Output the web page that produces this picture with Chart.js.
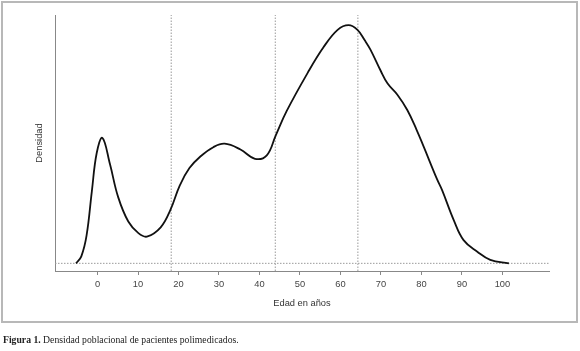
<!DOCTYPE html>
<html lang="es">
<head>
    <meta charset="UTF-8">
    <title>Densidad poblacional de pacientes polimedicados</title>
    <script src="https://cdn.jsdelivr.net/npm/chart.js"></script>
    <style>
        body {
            margin: 0;
            padding: 0;
            background: white;
            width: 580px;
            height: 351px;
            position: relative;
            overflow: hidden;
        }
        .frame {
            position: absolute;
            left: 1px;
            top: 1px;
            width: 577px;
            height: 322px;
            box-sizing: border-box;
            border: 2px solid #b8b8b8;
        }
        #chart {
            position: absolute;
            left: 0;
            top: 0;
        }
        .caption {
            position: absolute;
            left: 3px;
            top: 334px;
            font-family: "Liberation Serif", "DejaVu Serif", serif;
            font-size: 9.7px;
            color: #222;
            white-space: nowrap;
        }
    </style>
</head>
<body>
    <div class="frame"></div>
    <canvas id="chart" width="580" height="351"></canvas>
    <div class="caption"><b>Figura 1.</b> Densidad poblacional de pacientes polimedicados.</div>
    <script>
        // edad (años) y densidad estimada
        const ages = [-5.3, -4.0, -2.7, -1.4, -0.2, 1.2, 3.1, 5.1, 7.6, 10.1, 12.2, 15.6, 18.0, 20.3,
            22.7, 25.4, 28.6, 31.4, 35.3, 38.9, 41.8, 44.0, 46.7, 51.9, 55.8, 59.3, 62.0, 64.2,
            66.0, 67.4, 69.9, 71.6, 74.1, 76.5, 78.8, 80.6, 83.9, 85.1, 88.0, 90.4, 93.8, 97.0, 101.6];
        const density = [0, 0.0006, 0.0024, 0.0062, 0.0095, 0.0108, 0.0085, 0.0057, 0.0036, 0.0026, 0.0023, 0.0031, 0.0046, 0.0067,
            0.0082, 0.0092, 0.0100, 0.0103, 0.0098, 0.0090, 0.0093, 0.0110, 0.0131, 0.0164, 0.0186, 0.0201, 0.0205, 0.0201,
            0.0192, 0.0184, 0.0166, 0.0155, 0.0145, 0.0132, 0.0115, 0.0100, 0.0072, 0.0063, 0.0037, 0.0020, 0.0010, 0.0003, 0];
        // líneas verticales de referencia (edad)
        const markers = [18.2, 43.9, 64.3];
        const xTicks = [0, 10, 20, 30, 40, 50, 60, 70, 80, 90, 100];

        const xMin = -10.5, xMax = 111.5;
        const yMin = -0.00066, yMax = 0.02138;

        const labelFont = { family: "'Liberation Sans', Arial, sans-serif", size: 9.3 };
        const dotted = '#9a9a9a';

        const datasets = [{
            data: ages.map((a, i) => ({ x: a, y: density[i] })),
            borderColor: '#111',
            borderWidth: 1.8,
            tension: 0.4,
            pointRadius: 0,
            order: 0
        }, {
            data: [{ x: xMin, y: 0 }, { x: xMax, y: 0 }],
            borderColor: dotted,
            borderWidth: 1,
            borderDash: [1.5, 1.5],
            pointRadius: 0,
            order: 1
        }];
        markers.forEach(m => {
            datasets.push({
                data: [{ x: m, y: yMin }, { x: m, y: yMax }],
                borderColor: dotted,
                borderWidth: 1,
                borderDash: [1.5, 1.5],
                pointRadius: 0,
                order: 1
            });
        });

        new Chart(document.getElementById('chart'), {
            type: 'line',
            data: { datasets: datasets },
            options: {
                responsive: false,
                animation: false,
                layout: { padding: { left: 0, top: 15, right: 31, bottom: 0 } },
                plugins: { legend: { display: false }, tooltip: { enabled: false } },
                scales: {
                    x: {
                        type: 'linear',
                        min: xMin,
                        max: xMax,
                        afterFit: s => { s.height = 80; },
                        afterBuildTicks: s => { s.ticks = xTicks.map(v => ({ value: v })); },
                        grid: { display: true, drawOnChartArea: false, drawTicks: true, tickLength: 4, color: '#888' },
                        border: { display: true, color: '#888', width: 1 },
                        ticks: { font: labelFont, color: '#444', padding: 3.5, maxRotation: 0 },
                        title: { display: true, text: 'Edad en años', font: labelFont, color: '#333', padding: { top: 0, bottom: 42.4 } }
                    },
                    y: {
                        min: yMin,
                        max: yMax,
                        afterFit: s => { s.width = 55; },
                        grid: { display: false },
                        border: { display: true, color: '#888', width: 1 },
                        ticks: { display: false },
                        title: { display: true, text: 'Densidad', font: labelFont, color: '#333', padding: { top: 33.4, bottom: 0 } }
                    }
                }
            }
        });
    </script>
</body>
</html>
